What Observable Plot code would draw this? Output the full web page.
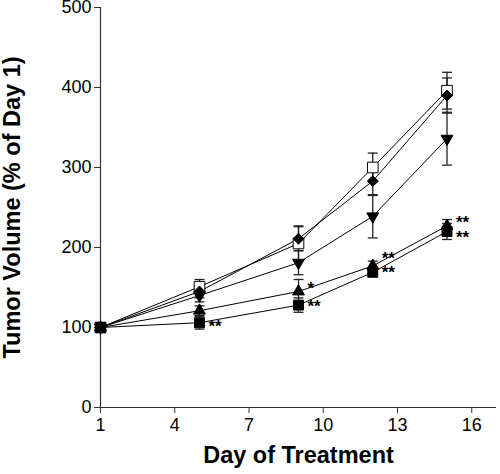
<!DOCTYPE html>
<html>
<head>
<meta charset="utf-8">
<script src="https://cdn.jsdelivr.net/npm/d3@7"></script>
<script src="https://cdn.jsdelivr.net/npm/@observablehq/plot@0.6"></script>
<style>
  html, body { margin: 0; padding: 0; background: #fff; }
  svg { font-family: "Liberation Sans", Arial, sans-serif; overflow: visible; }
</style>
</head>
<body>
<div id="chart"></div>
<script>
// ---- data ----
const days = [1, 5, 9, 12, 15];
const xTicks = [1, 4, 7, 10, 13, 16];
const yTicks = [0, 100, 200, 300, 400, 500];

const seriesNames = ["Open square", "Diamond", "Down triangle", "Up triangle", "Filled square"];
const openSquare   = [100, 151, 205, 300, 396];
const openSquareErr = [0, 9, 22, 18, 23];
const diamond      = [100, 145, 211, 283, 390];
const diamondErr   = [0, 8, 15, 18, 22];
const downTriangle = [100, 140, 181, 239, 336];
const downTriangleErr = [0, 8, 15, 27, 33];
const upTriangle   = [100, 121, 145, 177, 227];
const upTriangleErr = [0, 6, 15, 6, 8];
const filledSquare = [100, 106, 128, 169, 220];
const filledSquareErr = [0, 8, 9, 5, 10];

// significance marks: day, y-position (data units), label
const starDays   = [5, 9, 9, 12, 12, 15, 15];
const starValues = [108, 155, 133, 192, 175, 237, 219];
const starLabels = ["**", "*", "**", "**", "**", "**", "**"];

const xTitle = "Day of Treatment";
const yTitle = "Tumor Volume (% of Day 1)";

// ---- build tables ----
const seriesValues = [openSquare, diamond, downTriangle, upTriangle, filledSquare];
const seriesErrs = [openSquareErr, diamondErr, downTriangleErr, upTriangleErr, filledSquareErr];
const seriesStyle = {
  "Open square":   {symbol: "square",   fill: "white", r: 6.0, rotate: 0},
  "Diamond":       {symbol: "diamond2", fill: "black", r: 4.9, rotate: 0},
  "Down triangle": {symbol: "triangle", fill: "black", r: 4.4, rotate: 180},
  "Up triangle":   {symbol: "triangle", fill: "black", r: 4.4, rotate: 0},
  "Filled square": {symbol: "square",   fill: "black", r: 5.6, rotate: 0}
};
const rows = [];
seriesNames.forEach((s, i) => {
  days.forEach((d, j) => {
    rows.push({series: s, day: d, value: seriesValues[i][j], err: seriesErrs[i][j]});
  });
});
const errRows = rows.filter(r => r.err > 0);
const caps = errRows.flatMap(r => [
  {day: r.day, y: r.value + r.err},
  {day: r.day, y: r.value - r.err}
]);
const stars = starDays.map((d, i) => ({day: d, y: starValues[i], label: starLabels[i]}));

const capSymbol = {
  draw(ctx, size) {
    const w = Math.sqrt(size) / 2;
    ctx.moveTo(-w, 0);
    ctx.lineTo(w, 0);
  }
};

const dotMarks = seriesNames.map(s => {
  const st = seriesStyle[s];
  return Plot.dot(rows.filter(r => r.series === s), {
    x: "day", y: "value",
    symbol: () => st.symbol,
    r: st.r,
    fill: st.fill,
    stroke: "black",
    strokeWidth: 1,
    rotate: st.rotate
  });
});

const chart = Plot.plot({
  width: 500,
  height: 474,
  marginLeft: 100,
  marginRight: 4,
  marginTop: 7,
  marginBottom: 67,
  style: {fontFamily: '"Liberation Sans", Arial, sans-serif', color: "black", background: "white", overflow: "visible"},
  x: {domain: [1, 17], ticks: xTicks},
  y: {domain: [0, 500], ticks: yTicks},
  symbol: {type: "identity"},
  marks: [
    Plot.axisX({ticks: xTicks, tickSize: 6, tickPadding: 5, fontSize: 18, label: null, stroke: "#333"}),
    Plot.axisY({ticks: yTicks, tickSize: 6, tickPadding: 3, fontSize: 18, label: null, stroke: "#333"}),
    Plot.ruleX([1], {stroke: "#333", strokeWidth: 1.2}),
    Plot.ruleY([0], {stroke: "#333", strokeWidth: 1.2}),
    Plot.line(rows, {x: "day", y: "value", z: "series", stroke: "black", strokeWidth: 1}),
    Plot.ruleX(errRows, {x: "day", y1: r => r.value - r.err, y2: r => r.value + r.err, stroke: "#222", strokeWidth: 1.3}),
    Plot.dot(caps, {x: "day", y: "y", symbol: () => capSymbol, r: 5.6, stroke: "#222", strokeWidth: 1.3, fill: "none"}),
    ...dotMarks,
    Plot.text(stars, {x: "day", y: "y", text: "label", dx: 9, dy: 5, textAnchor: "start", fontSize: 17, fontWeight: "bold", fill: "black"}),
    Plot.text([xTitle], {frameAnchor: "bottom", dy: 55, fontSize: 23.5, fontWeight: "bold", fill: "black"}),
    Plot.text([yTitle], {frameAnchor: "left", rotate: -90, dx: -88, textAnchor: "middle", fontSize: 23.5, fontWeight: "bold", fill: "black"})
  ]
});
document.getElementById("chart").appendChild(chart);
</script>
</body>
</html>
